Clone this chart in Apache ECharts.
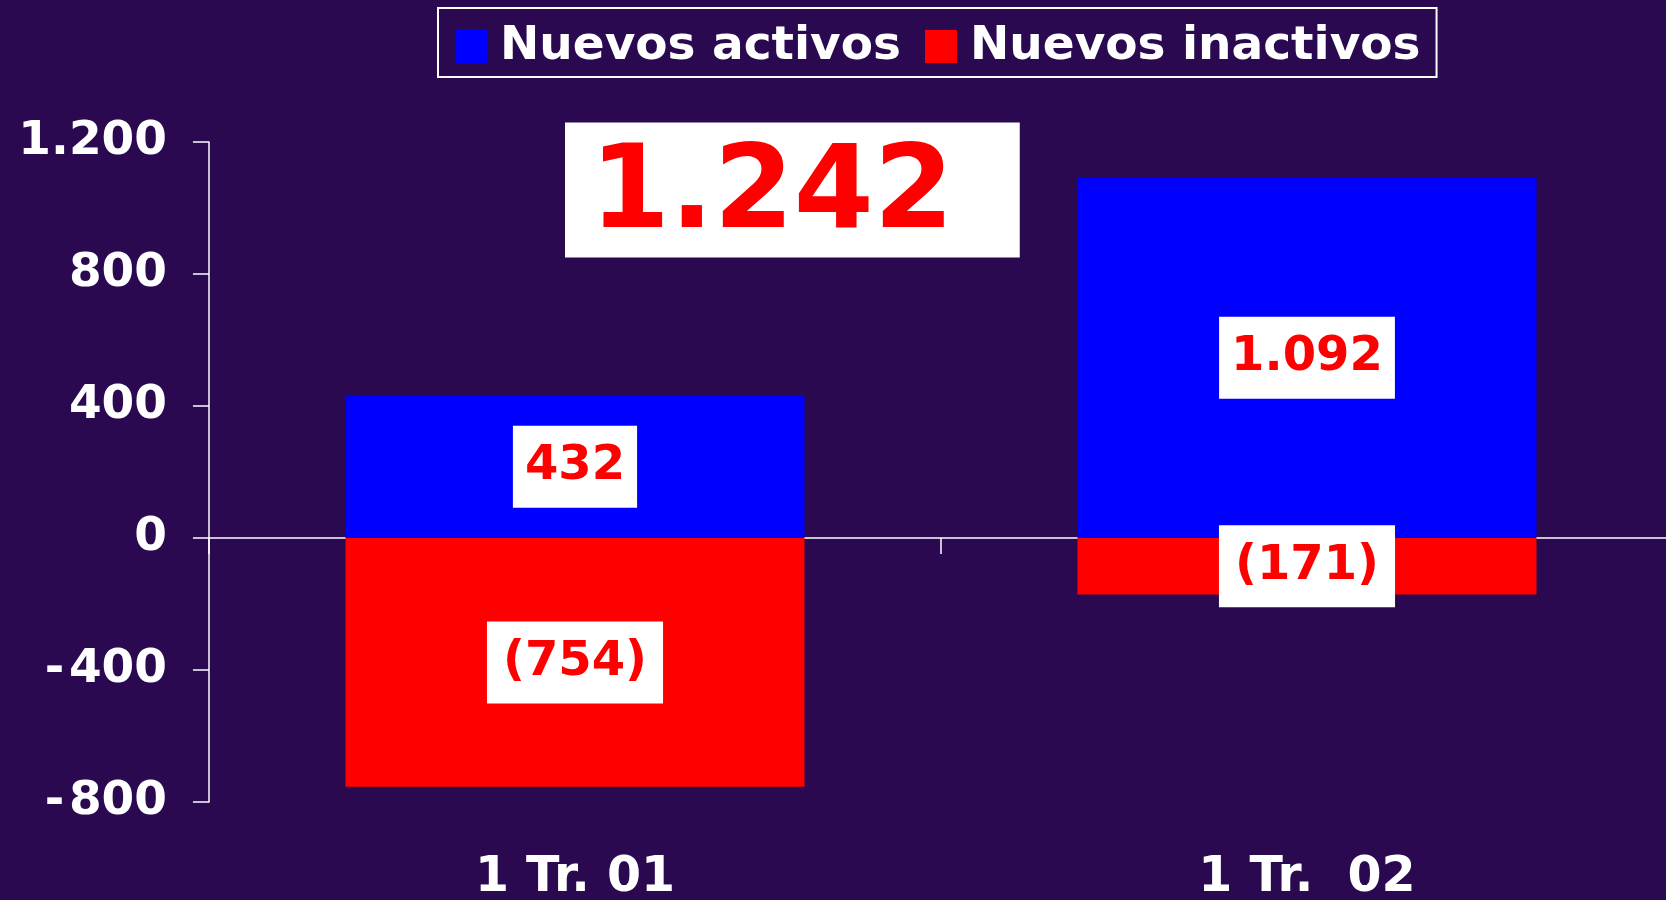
<!DOCTYPE html>
<html>
<head>
<meta charset="utf-8">
<script src="https://cdn.jsdelivr.net/npm/echarts@6/dist/echarts.min.js"></script>
<style>
  html, body { margin: 0; padding: 0; background: #2a0950; }
  #main { width: 1666px; height: 900px; }
</style>
</head>
<body>
<div id="main"></div>
<script>
// datos del trimestre
const categories = ['1 Tr. 01', '1 Tr.  02'];
const nuevosActivos = [432, 1092];
const nuevosInactivos = [-754, -171];
const totalDestacado = 1242;

const yTicks = { min: -800, max: 1200, interval: 400 };

const FONT = 'DejaVu Sans';

// formato con punto de miles y paréntesis para negativos
function fmt(v) {
  var s = String(Math.abs(v)).replace(/\B(?=(\d{3})+(?!\d))/g, '.');
  return v < 0 ? '(' + s + ')' : s;
}

var chartDom = document.getElementById('main');
var myChart = echarts.init(chartDom);

function barLabel(padX) {
  return {
    show: true,
    position: 'inside',
    formatter: function (p) { return fmt(p.value); },
    color: '#ff0000',
    fontFamily: FONT,
    fontWeight: 'bold',
    fontSize: 48,
    lineHeight: 48,
    backgroundColor: '#ffffff',
    padding: [17, padX]
  };
}

var option = {
  backgroundColor: '#2a0950',
  animation: false,
  title: {
    text: fmt(totalDestacado),
    left: 565,
    top: 124,
    backgroundColor: '#ffffff',
    padding: [17, 66, 3, 25],
    textStyle: {
      color: '#ff0000',
      fontFamily: FONT,
      fontWeight: 'bold',
      fontSize: 115,
      lineHeight: 112
    }
  },
  legend: {
    left: 438,
    top: 8,
    padding: [15, 16, 7, 17],
    itemWidth: 32,
    itemHeight: 33,
    itemGap: 24,
    borderColor: '#ffffff',
    borderWidth: 2,
    icon: 'rect',
    textStyle: {
      color: '#ffffff',
      fontFamily: FONT,
      fontWeight: 'bold',
      fontSize: 47,
      lineHeight: 47,
      padding: [0, 0, 0, 8]
    },
    data: ['Nuevos activos', 'Nuevos inactivos']
  },
  grid: {
    left: 209,
    right: -7,
    top: 142,
    bottom: 98,
    outerBoundsMode: 'none'
  },
  xAxis: [
    {
      type: 'category',
      data: categories,
      position: 'bottom',
      axisLine: { show: false, onZero: false },
      axisTick: { show: false },
      axisLabel: {
        color: '#ffffff',
        fontFamily: FONT,
        fontWeight: 'bold',
        fontSize: 49,
        lineHeight: 49,
        margin: 52
      }
    },
    {
      // línea del cero
      type: 'category',
      data: categories,
      position: 'bottom',
      axisLine: { show: true, onZero: true, lineStyle: { color: '#ffffff', width: 1.5 } },
      axisTick: { show: true, length: 16, lineStyle: { color: '#ffffff', width: 1.5 } },
      axisLabel: { show: false }
    }
  ],
  yAxis: {
    type: 'value',
    min: yTicks.min,
    max: yTicks.max,
    interval: yTicks.interval,
    splitLine: { show: false },
    axisLine: { show: true, lineStyle: { color: '#ffffff', width: 1.5 } },
    axisTick: { show: true, length: 16, lineStyle: { color: '#ffffff', width: 1.5 } },
    axisLabel: {
      color: '#ffffff',
      fontFamily: FONT,
      fontWeight: 'bold',
      fontSize: 47,
      margin: 42,
      formatter: function (v) {
        var s = fmt(Math.abs(v));
        return v < 0 ? '-\u200A' + s : s;
      }
    }
  },
  series: [
    {
      name: 'Nuevos activos',
      type: 'bar',
      stack: 'total',
      barWidth: '62.7%',
      itemStyle: { color: '#0000ff' },
      label: barLabel(12),
      data: nuevosActivos
    },
    {
      name: 'Nuevos inactivos',
      type: 'bar',
      stack: 'total',
      barWidth: '62.7%',
      itemStyle: { color: '#ff0000' },
      label: barLabel(16),
      data: nuevosInactivos
    }
  ]
};

myChart.setOption(option);
</script>
</body>
</html>
